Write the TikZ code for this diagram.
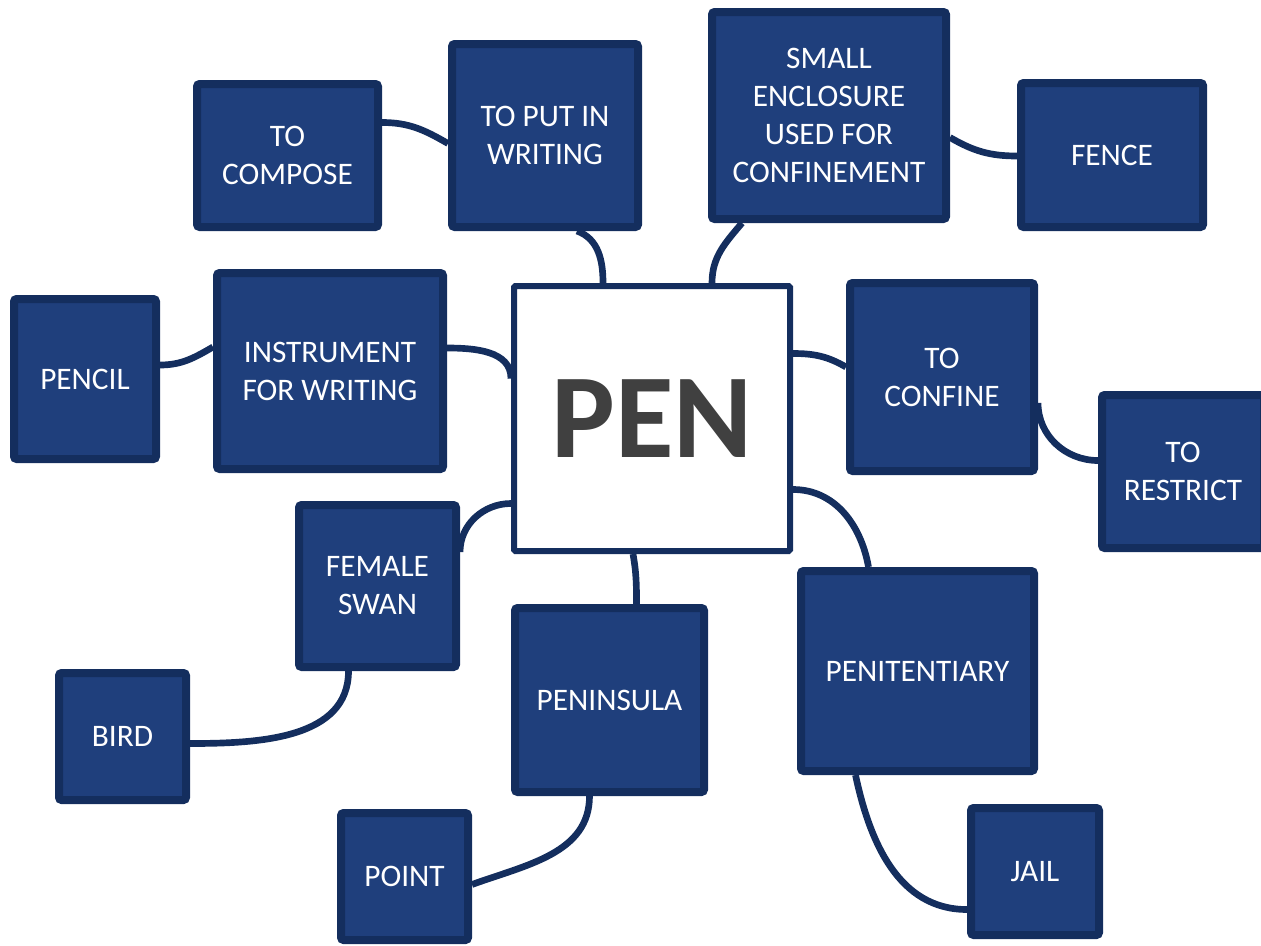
\documentclass[tikz,border=0pt]{standalone}
\usepackage{fontspec}
\setmainfont{Carlito}
\usepackage{xcolor}
\usetikzlibrary{backgrounds, calc}
\definecolor{boxfill}{HTML}{1F3F7C}
\definecolor{boxline}{HTML}{142E5E}
\definecolor{pengray}{HTML}{404040}
\tikzstyle{meaning}=[rectangle, draw=boxline, line width=6pt, fill=boxfill, rounded corners=2pt,
  text=white, align=center, inner sep=0pt, font=\fontsize{23.5}{28.5}\selectfont]
\tikzstyle{link}=[draw=boxline, line width=5pt]

\begin{document}
\begin{tikzpicture}[x=0.75pt, y=-0.75pt]
  \useasboundingbox (0,0) rectangle (1261,946);

  % the word
  \node[rectangle, draw=boxline, line width=4.5pt, fill=white, rounded corners=1pt,
        minimum width=207pt, minimum height=198.75pt, inner sep=0pt,
        text=pengray, font=\fontsize{90}{90}\selectfont\bfseries]
        (pen) at (652,418.5) {PEN};

  % meanings and related words
  \node[meaning, minimum width=135.75pt, minimum height=107.25pt] (compose)      at (287.5,155.5) {TO\\COMPOSE};
  \node[meaning, minimum width=139.5pt,  minimum height=137.25pt] (putwriting)   at (545,135.5)   {TO PUT IN\\WRITING};
  \node[meaning, minimum width=175.5pt,  minimum height=155.25pt] (enclosure)    at (829,115.5)   {SMALL\\ENCLOSURE\\USED FOR\\CONFINEMENT};
  \node[meaning, minimum width=136.5pt,  minimum height=108pt]    (fence)        at (1112,155)    {FENCE};
  \node[meaning, minimum width=106.5pt,  minimum height=120pt]    (pencil)       at (85,379)      {PENCIL};
  \node[meaning, minimum width=169.5pt,  minimum height=147pt]    (instrument)   at (330,371)     {INSTRUMENT\\FOR WRITING};
  \node[meaning, minimum width=138pt,    minimum height=141pt]    (confine)      at (942,377)     {TO\\CONFINE};
  \node[meaning, minimum width=121.5pt,  minimum height=114.75pt] (restrict)     at (1183,471.5)  {TO\\RESTRICT};
  \node[meaning, minimum width=117.75pt, minimum height=121.5pt]  (swan)         at (377.5,586)   {FEMALE\\SWAN};
  \node[meaning, minimum width=95.25pt,  minimum height=95.25pt]  (bird)         at (122.5,736.5) {BIRD};
  \node[meaning, minimum width=141.75pt, minimum height=138pt]    (peninsula)    at (609.5,700)   {PENINSULA};
  \node[meaning, minimum width=174.75pt, minimum height=150pt]    (penitentiary) at (917.5,671)   {PENITENTIARY};
  \node[meaning, minimum width=95.25pt,  minimum height=95.25pt]  (point)        at (404.5,876.5) {POINT};
  \node[meaning, minimum width=96pt,     minimum height=95.25pt]  (jail)         at (1035,871.5)  {JAIL};

  \begin{pgfonlayer}{background}
    \path[link]
      ($(compose.east)+(0,-33)$)    edge[out=0, in=150]    ($(putwriting.west)+(0,8)$)
      ($(putwriting.south)+(32,0)$) edge[out=-20, in=90]   ($(pen.north)+(-49,0)$)
      ($(enclosure.south)+(-87,0)$) edge[out=-130, in=90]  ($(pen.north)+(60,0)$)
      ($(enclosure.east)+(0,22)$)   edge[out=-30, in=180]  ($(fence.west)+(0,1)$)
      ($(pencil.east)+(0,-14)$)     edge[out=0, in=-150]   ($(instrument.west)+(0,-24)$)
      ($(instrument.east)+(0,-23)$) edge[out=0, in=90]     ($(pen.west)+(0,-40)$)
      ($(pen.east)+(0,-65)$)        edge[out=0, in=150]    ($(confine.west)+(0,-10)$)
      ($(confine.east)+(0,26)$)     edge[out=-90, in=180]  ($(restrict.west)+(0,-11)$)
      ($(pen.west)+(0,85)$)         edge[out=180, in=90]   ($(swan.east)+(0,-34)$)
      ($(swan.south)+(-29,0)$)      edge[out=-90, in=0]    ($(bird.east)+(0,7)$)
      ($(pen.south)+(-19,0)$)       edge[out=-80, in=90]   ($(peninsula.north)+(27,0)$)
      ($(pen.east)+(0,71)$)         edge[out=0, in=100]    ($(penitentiary.north)+(-49,0)$)
      ($(peninsula.south)+(-20,0)$) edge[out=-90, in=20]   ($(point.east)+(0,8)$)
      ($(penitentiary.south)+(-62,0)$) edge[out=-78, in=180] ($(jail.west)+(0,38)$);
  \end{pgfonlayer}
\end{tikzpicture}
\end{document}
